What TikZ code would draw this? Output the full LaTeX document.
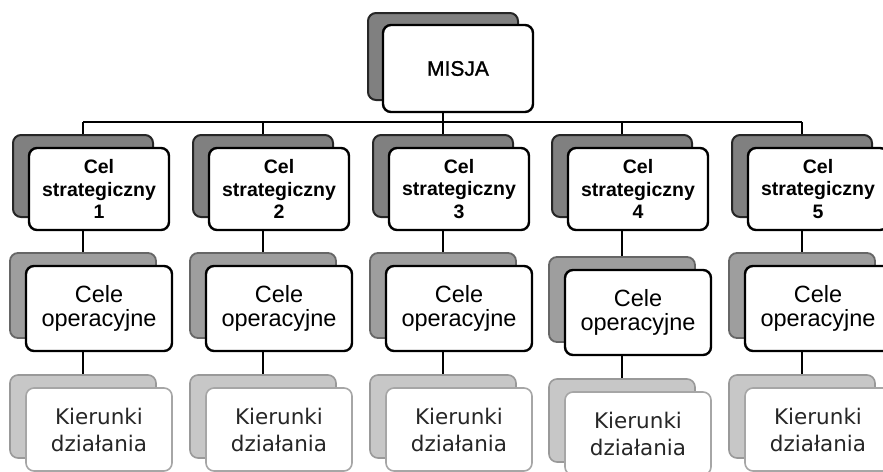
\documentclass[tikz,border=0pt]{standalone}
\usepackage{fontspec}
\setmainfont{Liberation Sans}
\newfontfamily\dejavu{DejaVu Sans}
\newfontfamily\stratf{Liberation Sans Bold}
\newfontfamily\misjaf{Liberation Sans}[FakeBold=1.2]
\begin{document}
\begin{tikzpicture}[x=1pt,y=-1pt,
  box/.style={rounded corners=8pt, inner sep=0pt, align=center, minimum width=146pt},
  frontA/.style={box, draw=black, line width=2.4pt, fill=white},
  frontK/.style={box, draw=black!35, line width=1.6pt, fill=white},
  backA/.style={box, draw=black!85, line width=2pt, fill=black!50},
  backC/.style={box, draw=black!60, line width=1.8pt, fill=black!38},
  backK/.style={box, draw=black!40, line width=1.6pt, fill=black!22},
  conn/.style={draw=black, line width=2.2pt},
  misjafont/.style={font=\misjaf\fontsize{21}{24}\selectfont},
  stratfont/.style={font=\stratf\fontsize{19.5}{22.5}\selectfont},
  celefont/.style={font=\fontsize{23.5}{24}\selectfont},
  kierfont/.style={font=\dejavu\fontsize{21.5}{27}\selectfont, text=black!85}
]
\useasboundingbox (0,0) rectangle (883,471);
\clip (0,0) rectangle (883,471);
\coordinate (bar) at (0,122);

% MISJA
\node[backA, minimum width=150pt, minimum height=87pt] (mb) at (443,56.5) {};
\node[frontA, misjafont, minimum width=150pt, minimum height=87pt] (m) at (458,68.5) {MISJA};

\foreach \i/\cx/\dy in {1/83/0, 2/263/0, 3/443/0, 4/622/4, 5/802/0}{
  % connectors (behind)
  \draw[conn] (\cx,122) -- (\cx,{176-41});
  \draw[conn] (\cx,{189+41}) -- (\cx,{295.5-42.5+\dy});
  \draw[conn] (\cx,{308.5+42.5+\dy}) -- (\cx,{416.5-41.5+\dy});
}
\draw[conn] (mb |- m.south) -- (mb |- bar);
\draw[conn] (83,122) -- (802,122);

\foreach \i/\cx/\dy in {1/83/0, 2/263/0, 3/443/0, 4/622/4, 5/802/0}{
  \node[backA, minimum width=140pt, minimum height=82pt] (s\i b) at (\cx,176) {};
  \node[frontA, stratfont, minimum width=140pt, minimum height=82pt] (s\i) at ({\cx+16},189) {Cel\\strategiczny\\\i};
  \node[backC, minimum height=85pt] (c\i b) at (\cx,{295.5+\dy}) {};
  \node[frontA, celefont, minimum height=85pt] (c\i) at ({\cx+16},{308.5+\dy}) {Cele\\operacyjne};
  \node[backK, minimum height=83pt] (k\i b) at (\cx,{416.5+\dy}) {};
  \node[frontK, kierfont, minimum height=83pt] (k\i) at ({\cx+16},{429.5+\dy}) {Kierunki\\działania};
}
\end{tikzpicture}
\end{document}
